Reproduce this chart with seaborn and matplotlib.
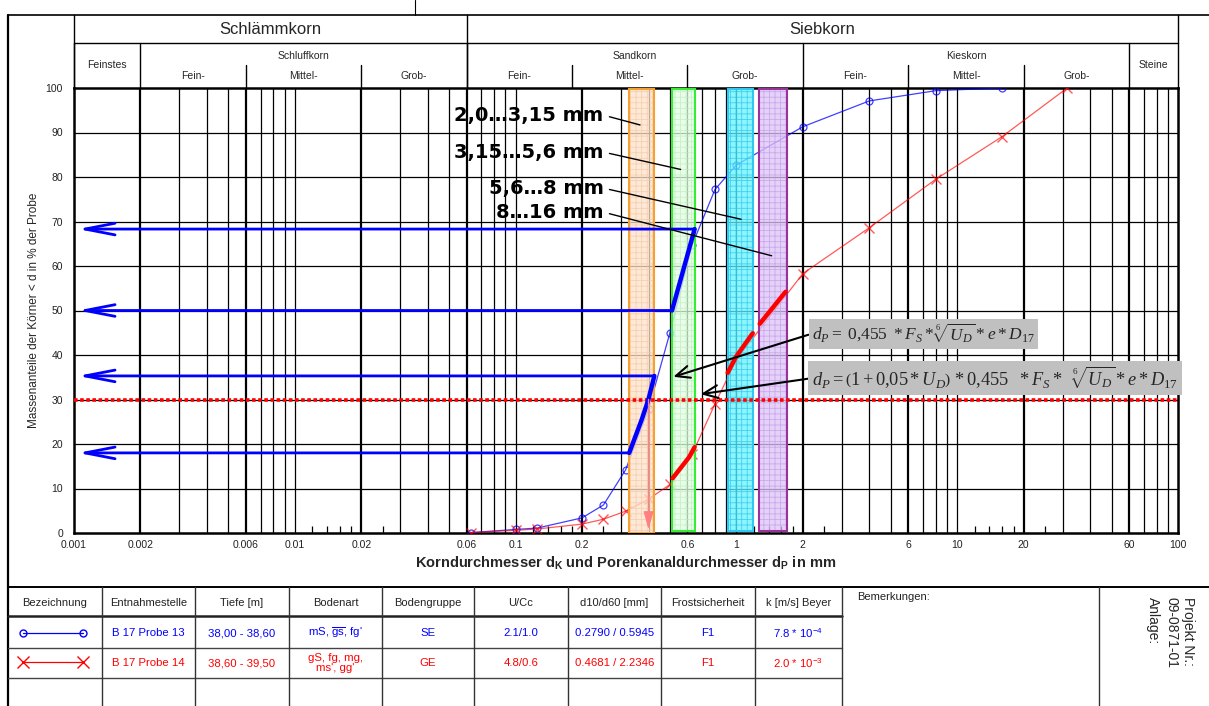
import numpy as np
import pandas as pd
import seaborn as sns
import matplotlib.pyplot as plt
from matplotlib.patches import ArrowStyle

## Data

# grain size curves (d in mm, passing in %)
p13_d = [0.063, 0.1, 0.125, 0.2, 0.25, 0.315, 0.4, 0.5, 0.63, 0.8, 1.0, 2.0, 4.0, 8.0, 16.0]
p13_p = [0.1, 0.8, 1.1, 3.4, 6.3, 14.2, 27.8, 45.0, 64.7, 77.2, 82.7, 91.3, 97.1, 99.4, 100.0]
p14_d = [0.063, 0.1, 0.125, 0.2, 0.25, 0.315, 0.4, 0.5, 0.63, 0.8, 1.0, 2.0, 4.0, 8.0, 16.0, 31.5]
p14_p = [0.1, 0.6, 0.9, 2.0, 3.1, 4.9, 7.6, 10.9, 17.7, 29.0, 39.0, 58.3, 68.6, 79.5, 89.1, 100.0]

# filter bands
band_lo = [0.327, 0.511, 0.913, 1.27]
band_hi = [0.425, 0.647, 1.194, 1.69]
band_bottom = [0.0, 0.5, 0.4, 0.4]
band_names = ['2,0…3,15 mm', '3,15…5,6 mm', '5,6…8 mm', '8…16 mm']
band_label_p = [93.9, 85.6, 77.5, 72.1]
band_target_d = [0.366, 0.559, 1.05, 1.445]
band_target_p = [91.7, 81.7, 70.5, 62.3]
band_face = ['#fde2cc', '#e4fde4', '#66f2ff', '#dcc4f7']
band_hatch = ['#f7c7a0', '#b8f0b8', '#25c8e8', '#c39be8']
band_edge = ['#f5a030', '#33ee33', '#30c8f0', '#993399']

# blue construction (Probe 13)
blue_seg1_d = [0.327, 0.372, 0.399, 0.425]
blue_seg1_p = [18.0, 25.4, 29.9, 35.3]
blue_seg2_d = [0.511, 0.647]
blue_seg2_p = [50.0, 68.3]
blue_arrow_d = [0.647, 0.511, 0.425, 0.327]
blue_arrow_p = [68.3, 50.0, 35.3, 18.0]

# red construction (Probe 14)
red_segs = [([0.514, 0.61, 0.647], [12.3, 17.0, 19.3]),
            ([0.913, 0.996, 1.186], [36.0, 39.6, 44.9]),
            ([1.275, 1.67], [47.0, 54.2])]
d30 = 0.40
limit_p = 30

# formulas
formula1 = r'$d_P=\ 0{,}455\ *F_S*\sqrt[6]{U_D}*e*D_{17}$'
formula2 = r'$d_P=\left(1+0{,}05*U_D\right)\,*0{,}455\ \ *F_S*\ \ \sqrt[6]{U_D}*e*D_{17}$'
formula_size = [12.5, 13.2]
formula_p = [44.8, 34.8]
formula_target_d = [0.518, 0.689]
formula_target_p = [35.1, 31.2]

# axes
xticks = [0.001, 0.002, 0.006, 0.01, 0.02, 0.06, 0.1, 0.2, 0.6, 1, 2, 6, 10, 20, 60, 100]
xtick_labels = ['0.001', '0.002', '0.006', '0.01', '0.02', '0.06', '0.1', '0.2', '0.6',
                '1', '2', '6', '10', '20', '60', '100']
bounds = [0.002, 0.006, 0.02, 0.06, 0.2, 0.6, 2, 6, 20, 60]

# header
groups = [('Feinstes', 0.001, 0.002), ('Schluffkorn', 0.002, 0.06), ('Sandkorn', 0.06, 2),
          ('Kieskorn', 2, 60), ('Steine', 60, 100)]
subs = ['Fein-', 'Mittel-', 'Grob-']

# table
tab_header = ['Bezeichnung', 'Entnahmestelle', 'Tiefe [m]', 'Bodenart', 'Bodengruppe',
              'U/Cc', 'd10/d60 [mm]', 'Frostsicherheit', 'k [m/s] Beyer']
row13 = ['B 17 Probe 13', '38,00 - 38,60', r"mS, $\overline{\mathsf{gs}}$, fg'", 'SE', '2.1/1.0',
         '0.2790 / 0.5945', 'F1', r'7.8 * 10$^{\mathsf{-4}}$']
row14 = ['B 17 Probe 14', '38,60 - 39,50', "gS, fg, mg,\nms', gg'", 'GE', '4.8/0.6',
         '0.4681 / 2.2346', 'F1', r'2.0 * 10$^{\mathsf{-3}}$']

sns.set_theme(style='white')
plt.rcParams['font.family'] = ['Liberation Sans', 'DejaVu Sans']
plt.rcParams['mathtext.fontset'] = 'custom'
plt.rcParams['mathtext.rm'] = 'Liberation Serif'
plt.rcParams['mathtext.it'] = 'Liberation Serif:italic'
plt.rcParams['mathtext.bf'] = 'Liberation Sans:bold'
plt.rcParams['mathtext.sf'] = 'Liberation Sans'
plt.rcParams['hatch.linewidth'] = 0.6

fig = plt.figure(figsize=(12.09, 7.06), dpi=100)
ax = fig.add_axes([74 / 1209, 173 / 706, 1104 / 1209, 445 / 706])
ax.set_xscale('log')
ax.set_xlim(0.001, 100)
ax.set_ylim(0, 100)

# grid
for k in range(-3, 2):
    for m in range(1, 10):
        v = m * 10.0 ** k
        if 0.001 < v < 100:
            ax.axvline(v, color='black', lw=1.6 if v in bounds else 0.9, zorder=1)
for p in range(10, 100, 10):
    ax.axhline(p, color='black', lw=0.9, zorder=1)

# curves
df13 = pd.DataFrame({'d': p13_d, 'p': p13_p})
df14 = pd.DataFrame({'d': p14_d, 'p': p14_p})
sns.lineplot(data=df13, x='d', y='p', ax=ax, color='blue', lw=0.9, alpha=0.75,
             marker='o', markersize=5, markerfacecolor='none', markeredgecolor='blue',
             markeredgewidth=0.9, sort=False, estimator=None, zorder=3)
sns.lineplot(data=df14, x='d', y='p', ax=ax, color='red', lw=0.9, alpha=0.65,
             marker='x', markersize=7, markeredgecolor='red', markeredgewidth=1.0,
             sort=False, estimator=None, zorder=3)

# bands
for lo, hi, b, fc, hc, ec in zip(band_lo, band_hi, band_bottom, band_face, band_hatch, band_edge):
    ax.axvspan(lo, hi, ymin=b / 100, ymax=0.997, facecolor=fc, edgecolor=hc, hatch='+++',
               lw=0.01, alpha=0.75, zorder=4)
    ax.axvspan(lo, hi, ymin=b / 100, ymax=0.997, fill=False, edgecolor=ec, lw=1.5, zorder=4)

# red 30 % line
ax.axhline(limit_p, color='red', lw=2.6, ls=(0, (1, 0.7)), zorder=5)

# blue construction
sns.lineplot(x=blue_seg1_d, y=blue_seg1_p, ax=ax, color='blue', lw=3.2, sort=False,
             estimator=None, zorder=6)
sns.lineplot(x=blue_seg2_d, y=blue_seg2_p, ax=ax, color='blue', lw=3.2, sort=False,
             estimator=None, zorder=6)
for d, p in zip(blue_arrow_d, blue_arrow_p):
    ax.annotate('', xy=(0.00104, p), xytext=(d, p),
                arrowprops=dict(arrowstyle=ArrowStyle('->', head_length=1.8, head_width=0.35),
                                color='blue', lw=2.0, shrinkA=0, shrinkB=0), zorder=6)

# red construction
for sd, sp in red_segs:
    sns.lineplot(x=sd, y=sp, ax=ax, color='red', lw=3.2, sort=False, estimator=None, zorder=6)
ax.annotate('', xy=(d30, 0.8), xytext=(d30, limit_p),
            arrowprops=dict(arrowstyle=ArrowStyle('-|>', head_length=0.9, head_width=0.25),
                            color='#ff8080', lw=1.0, shrinkA=0, shrinkB=0), zorder=6)

# band labels
for name, yp, td, tp in zip(band_names, band_label_p, band_target_d, band_target_p):
    ax.annotate(name, xy=(td, tp), xytext=(0.25, yp), ha='right', va='center',
                fontsize=14, fontweight='bold', family='DejaVu Sans', color='black',
                arrowprops=dict(arrowstyle='-', color='black', lw=1.0, shrinkA=2, shrinkB=0,
                                relpos=(1, 0.5)), zorder=7)

# formulas
for f, fs, yp, td, tp in zip([formula1, formula2], formula_size, formula_p,
                             formula_target_d, formula_target_p):
    ax.annotate(f, xy=(td, tp), xytext=(2.2, yp), ha='left', va='center', fontsize=fs,
                bbox=dict(boxstyle='square,pad=0.2', fc='#c0c0c0', ec='none'),
                arrowprops=dict(arrowstyle=ArrowStyle('->', head_length=0.8, head_width=0.35),
                                color='black', lw=1.5, shrinkA=0, shrinkB=0, relpos=(0, 0.5)),
                annotation_clip=False, zorder=8)

# axes styling
ax.set_xticks(xticks)
ax.set_xticklabels(xtick_labels, fontsize=7.5, color='#222222')
minor = [m * 10.0 ** k for k in range(-2, 2) for m in (1.2, 1.4, 1.6, 1.8, 2.5)]
ax.set_xticks(minor, minor=True)
ax.set_xticklabels([], minor=True)
ax.tick_params(axis='x', which='major', length=0, pad=5)
ax.tick_params(axis='x', which='minor', direction='in', length=5, width=0.9, color='black',
               bottom=True)
ax.set_yticks(range(0, 101, 10))
ax.set_yticklabels([str(v) for v in range(0, 101, 10)], fontsize=7.5, color='#222222')
ax.tick_params(axis='y', length=0, pad=8)
for s in ax.spines.values():
    s.set_color('black')
    s.set_linewidth(1.8)
ax.set_xlabel(r'Korndurchmesser $\mathbf{d_K}$ und Porenkanaldurchmesser $\mathbf{d_P}$ in mm',
              fontsize=10.5, fontweight='bold', labelpad=3)
ax.set_ylabel('Massenanteile der Körner < d in % der Probe', fontsize=8.5)
ax.yaxis.set_label_coords(-0.031, 0.5)

# header above the plot
trans = ax.get_xaxis_transform()
y_top, y_mid, y_sub = (533 - 15) / 445, (533 - 43) / 445, (533 - 65) / 445
hl = dict(color='black', lw=1.0, transform=trans, clip_on=False)
ax.plot([0.001, 100], [y_mid, y_mid], **hl)
ax.plot([0.001, 0.001], [1, y_top], **hl)
ax.plot([100, 100], [1, y_top], **hl)
ax.plot([0.06, 0.06], [1, y_top], **hl)
for name, a, b in groups:
    ax.plot([a, a], [1, y_mid], **hl)
    xc = np.sqrt(a * b)
    if name in ('Feinstes', 'Steine'):
        ax.text(xc, (1 + y_mid) / 2, name, transform=trans, ha='center', va='center', fontsize=7.5)
    else:
        ax.text(xc, (533 - 56) / 445, name, transform=trans, ha='center', va='center', fontsize=7.5)
        edges = [a, a * 3, a * 10, b]
        for i, s in enumerate(subs):
            if i > 0:
                ax.plot([edges[i], edges[i]], [1, y_sub], **hl)
            ax.text(np.sqrt(edges[i] * edges[i + 1]), (533 - 76) / 445, s, transform=trans,
                    ha='center', va='center', fontsize=7.5)
ax.text(np.sqrt(0.001 * 0.06), (533 - 29) / 445, 'Schlämmkorn', transform=trans,
        ha='center', va='center', fontsize=12)
ax.text(np.sqrt(0.06 * 100), (533 - 29) / 445, 'Siebkorn', transform=trans,
        ha='center', va='center', fontsize=12)

# page frame and table (pixel overlay)
ov = fig.add_axes([0, 0, 1, 1])
ov.set_xlim(0, 1209)
ov.set_ylim(706, 0)
ov.axis('off')
ov.plot([8, 1209], [15, 15], color='black', lw=1.2)
ov.plot([8, 8], [15, 706], color='black', lw=1.6)
ov.plot([415, 415], [0, 15], color='black', lw=0.8)

cols = [8, 102, 195, 289, 382, 474, 568, 661, 755, 842, 1099]
ov.plot([8, 1209], [587, 587], color='black', lw=1.4)
ov.plot([8, 842], [616, 616], color='#222222', lw=1.8)
ov.plot([8, 842], [648, 648], color='#444444', lw=1.0)
ov.plot([8, 842], [678, 678], color='#444444', lw=1.0)
for c in cols[1:]:
    ov.plot([c, c], [587, 706], color='#333333', lw=1.0)
for i, h in enumerate(tab_header):
    ov.text((cols[i] + cols[i + 1]) / 2, 603, h, ha='center', va='center', fontsize=8,
            color='#222222')
for row, y, col in ((row13, 633, 'blue'), (row14, 663, 'red')):
    for i, t in enumerate(row):
        ov.text((cols[i + 1] + cols[i + 2]) / 2, y, t, ha='center', va='center', fontsize=8.2,
                color=col, linespacing=1.0)
ov.plot([23, 83], [633, 633], color='blue', lw=0.9, marker='o', markersize=5,
        markerfacecolor='none', markevery=[0, 1])
ov.plot([23, 83], [662, 662], color='red', lw=0.9, marker='x', markersize=8, markevery=[0, 1])
ov.text(857, 597, 'Bemerkungen:', ha='left', va='center', fontsize=8, color='#222222')
ov.text(1188, 597, 'Projekt Nr.:', rotation=270, ha='center', va='top', fontsize=10)
ov.text(1171, 597, '09-0871-01', rotation=270, ha='center', va='top', fontsize=10)
ov.text(1153, 597, 'Anlage:', rotation=270, ha='center', va='top', fontsize=10)

fig.savefig('out.png', dpi=100)
